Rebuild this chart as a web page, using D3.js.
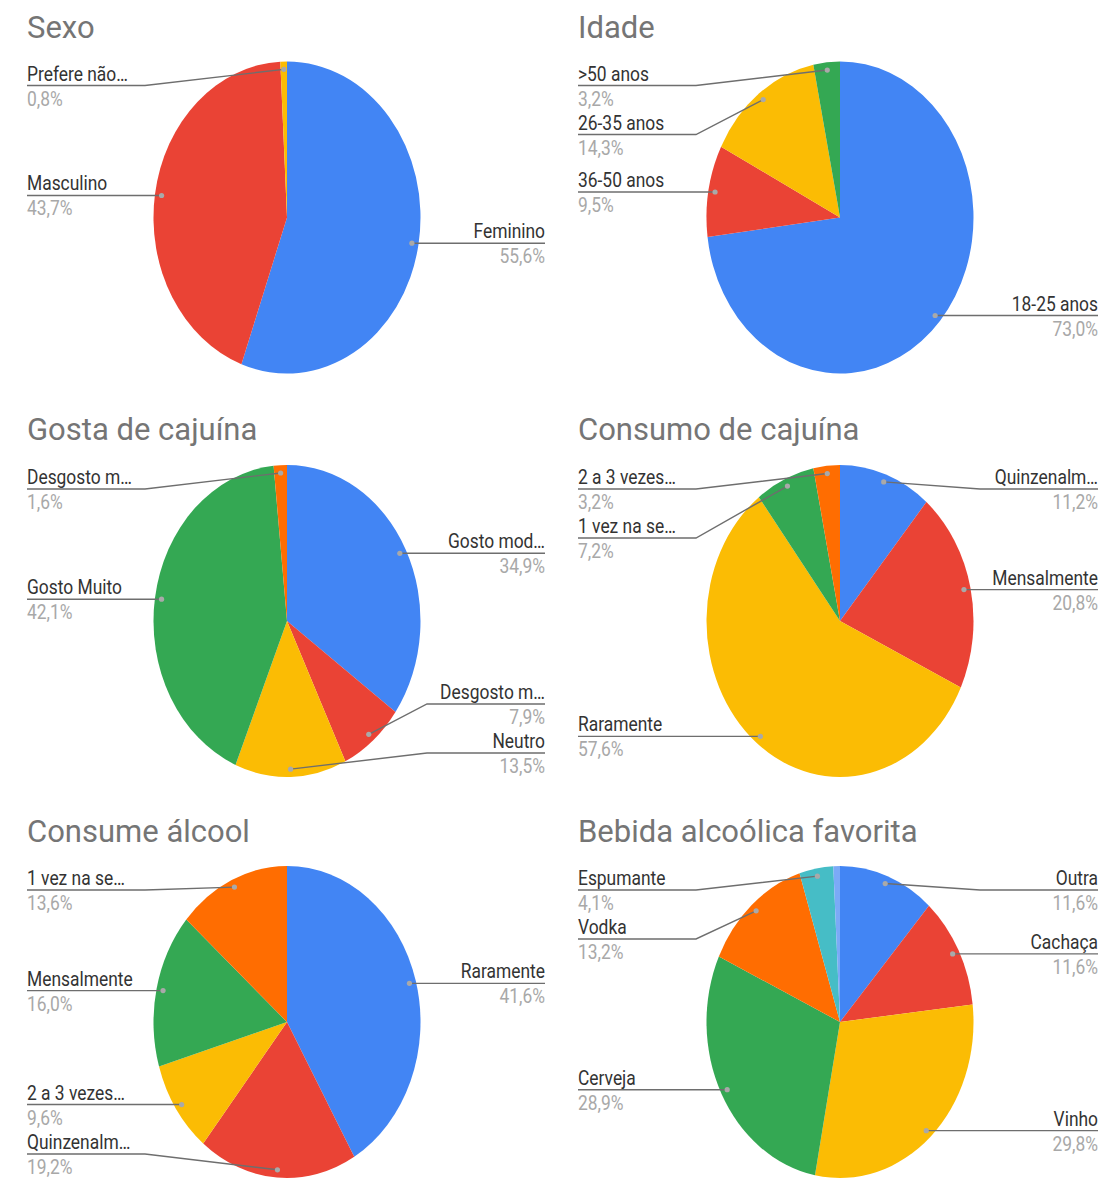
<!DOCTYPE html>
<html>
<head>
<meta charset="utf-8">
<script src="https://cdn.jsdelivr.net/npm/d3@7"></script>
<style>
  body { margin: 0; background: #fff; }
  svg { display: block; font-family: Roboto, "Noto Sans", Arial, sans-serif; }
</style>
</head>
<body>
<svg id="chart" width="1103" height="1199"></svg>
<script>
// Survey answers, in percent, listed clockwise from 12 o'clock
const palette = ["#4285f4", "#ea4335", "#fbbc04", "#34a853", "#ff6d01", "#46bdc6", "#7baaf7"];

const titles = ["Sexo", "Idade", "Gosta de cajuína", "Consumo de cajuína", "Consume álcool", "Bebida alcoólica favorita"];

const sexoLabels = ["Feminino", "Masculino", "Prefere não…"];
const sexoValues = [55.6, 43.7, 0.8];

const idadeLabels = ["18-25 anos", "36-50 anos", "26-35 anos", ">50 anos"];
const idadeValues = [73.0, 9.5, 14.3, 3.2];

const gostaLabels = ["Gosto mod…", "Desgosto m…", "Neutro", "Gosto Muito", "Desgosto m…"];
const gostaValues = [34.9, 7.9, 13.5, 42.1, 1.6];

const consumoLabels = ["Quinzenalm…", "Mensalmente", "Raramente", "1 vez na se…", "2 a 3 vezes…"];
const consumoValues = [11.2, 20.8, 57.6, 7.2, 3.2];

const alcoolLabels = ["Raramente", "Quinzenalm…", "2 a 3 vezes…", "Mensalmente", "1 vez na se…"];
const alcoolValues = [41.6, 19.2, 9.6, 16.0, 13.6];

// the last, thinnest slice carries no label
const bebidaLabels = ["Outra", "Cachaça", "Vinho", "Cerveja", "Vodka", "Espumante", null];
const bebidaValues = [11.6, 11.6, 29.8, 28.9, 13.2, 4.1, 0.8];

const panels = [
  { labels: sexoLabels, values: sexoValues },
  { labels: idadeLabels, values: idadeValues },
  { labels: gostaLabels, values: gostaValues },
  { labels: consumoLabels, values: consumoValues },
  { labels: alcoolLabels, values: alcoolValues },
  { labels: bebidaLabels, values: bebidaValues }
];

// Layout
const columns = [
  { left: 27, right: 545, cx: 287 },
  { left: 578, right: 1098, cx: 840 }
];
const rows = [
  { titleY: 38, cy: 217.5 },
  { titleY: 440, cy: 621 },
  { titleY: 842, cy: 1022 }
];
const ry = 156, rx = 133.5, sx = rx / ry;
const labelGap = 49, edgePad = 24, elbow = 118, textScale = 0.87;

const pt = d3.formatLocale({ decimal: ",", thousands: ".", grouping: [3], currency: ["R$", ""] }).format(".1f");

const svg = d3.select("#chart");
const pie = d3.pie().sort(null).value(d => d.value);
const arc = d3.arc().innerRadius(0).outerRadius(ry);
const dotArc = d3.arc().innerRadius(ry * 0.95).outerRadius(ry * 0.95);

panels.forEach((p, i) => {
  const col = columns[i % 2], row = rows[Math.floor(i / 2)];
  const g = svg.append("g");

  g.append("text")
    .attr("x", col.left).attr("y", row.titleY)
    .attr("font-size", 31).attr("fill", "#757575")
    .text(titles[i]);

  const data = p.values.map((v, k) => ({ value: v, label: p.labels[k], color: palette[k] }));
  const arcs = pie(data);

  g.append("g")
    .attr("transform", `translate(${col.cx},${row.cy}) scale(${sx},1)`)
    .selectAll("path").data(arcs).join("path")
    .attr("d", arc)
    .attr("fill", d => d.data.color);

  // label anchors on the slices
  const items = arcs.filter(d => d.data.label).map(d => {
    const c = dotArc.centroid(d);
    const mid = (d.startAngle + d.endAngle) / 2;
    return {
      d, dotX: col.cx + c[0] * sx, dotY: row.cy + c[1],
      side: mid < Math.PI ? "right" : "left"
    };
  });

  const minL = row.cy - ry + edgePad, maxL = row.cy + ry - edgePad;
  ["left", "right"].forEach(side => {
    const list = items.filter(it => it.side === side).sort((a, b) => a.dotY - b.dotY);
    let prev = -Infinity;
    list.forEach(it => { it.L = Math.max(it.dotY, minL, prev + labelGap); prev = it.L; });
    let next = Infinity;
    for (let k = list.length - 1; k >= 0; k--) {
      list[k].L = Math.min(list[k].L, maxL, next - labelGap);
      next = list[k].L;
    }
  });

  const line = d3.line();
  items.forEach(it => {
    const left = it.side === "left";
    const edgeX = left ? col.left : col.right;
    const elbowX = left ? Math.min(edgeX + elbow, it.dotX) : Math.max(edgeX - elbow, it.dotX);
    g.append("path")
      .attr("d", line([[edgeX, it.L], [elbowX, it.L], [it.dotX, it.dotY]]))
      .attr("fill", "none").attr("stroke", "#6e6e6e").attr("stroke-width", 1.4);
    g.append("circle")
      .attr("cx", it.dotX).attr("cy", it.dotY).attr("r", 2.6)
      .attr("fill", "#a9a9a9");

    const anchor = left ? "start" : "end";
    g.append("text")
      .attr("transform", `translate(${edgeX},${it.L - 5}) scale(${textScale},1)`)
      .attr("text-anchor", anchor).attr("font-size", 20).attr("fill", "#333")
      .text(it.d.data.label);
    g.append("text")
      .attr("transform", `translate(${edgeX},${it.L + 20}) scale(${textScale},1)`)
      .attr("text-anchor", anchor).attr("font-size", 20).attr("fill", "#a8a8a8")
      .text(pt(it.d.data.value) + "%");
  });
});
</script>
</body>
</html>
